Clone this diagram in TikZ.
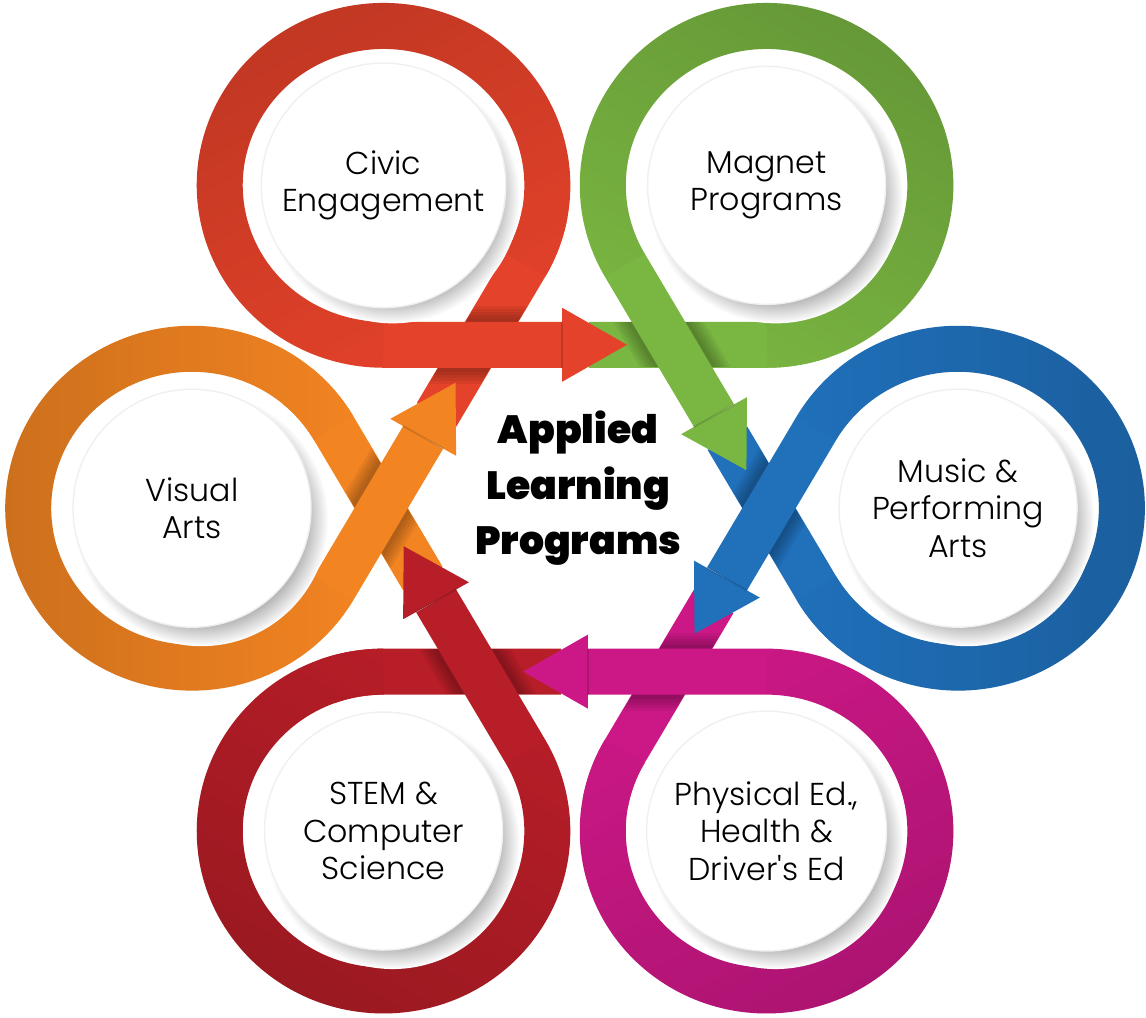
\documentclass[tikz,border=0pt]{standalone}
\usepackage{fontspec}
\IfFontExistsTF{Poppins Light}{\setmainfont{Poppins Light}}{\setmainfont{Poppins}}
\IfFontExistsTF{Poppins Black}{\newfontfamily\hubfont{Poppins Black}}{\newcommand\hubfont{\bfseries}}
\definecolor{civicred}{RGB}{228,66,42}
\definecolor{magnetgreen}{RGB}{122,182,66}
\definecolor{musicblue}{RGB}{32,112,186}
\definecolor{physmagenta}{RGB}{204,24,134}
\definecolor{stemred}{RGB}{184,30,40}
\definecolor{visualorange}{RGB}{242,132,34}
\usetikzlibrary{calc}
\usetikzlibrary{fadings}
\pgfdeclareradialshading{discshade}{\pgfpoint{0bp}{0bp}}{color(0bp)=(black!40); color(19bp)=(black!40); color(25bp)=(white); color(50bp)=(white)}
\tikzfading[name=ringfade, top color=transparent!100, bottom color=transparent!0]
\tikzset{
  band/.style={line width=0.46cm},
  disc/.style={circle, fill=white, draw=black!6, minimum size=2.38cm, align=center,
    font=\fontsize{9}{10.7}\selectfont},
  title/.style={align=center, font=\fontsize{11.2}{15.9}\selectfont\hubfont},
}
\begin{document}
\begin{tikzpicture}[x=0.01027cm, y=0.01cm]
  \fill [white] (-560,-509.5) rectangle (556,508.5);
  \useasboundingbox (-560,-509.5) rectangle (556,508.5);

  % centres and tangent points of the six loops
  \foreach \ang [count=\k] in {120,60,0,-60,-120,180} {
    \coordinate (c\k) at (\ang:373);
    \coordinate (in\k) at ($(c\k)+(\ang-150:159.5)$);
    \coordinate (from\k) at ($(in\k)+(\ang+120:173)$);
    \coordinate (out\k) at ($(c\k)+(\ang+150:159.5)$);
    \coordinate (base\k) at ($(out\k)+(\ang-120:174)$);
    \coordinate (tip\k) at ($(out\k)+(\ang-120:237)$);
  }

  % first the incoming legs, so that every arrow lies on top of them
  \foreach \ang/\col [count=\k] in {120/civicred, 60/magnetgreen, 0/musicblue,
      -60/physmagenta, -120/stemred, 180/visualorange} {
    \draw [band, \col] (from\k) -- (in\k) arc [start angle=\ang-150, delta angle=20, radius=159.5];
  }

  % loops, outgoing legs and arrow heads
  \foreach \ang/\col [count=\k] in {120/civicred, 60/magnetgreen, 0/musicblue,
      -60/physmagenta, -120/stemred, 180/visualorange} {
    % shadow of the outgoing leg on the incoming one
    \begin{scope}
      \clip ($(from\k)+(\ang+30:22)$) -- ($(in\k)+(\ang+30:22)$)
        -- ($(in\k)+(\ang-150:22)$) -- ($(from\k)+(\ang-150:22)$) -- cycle;
      \foreach \w in {0.78,0.72,0.66,0.60,0.54}
        \draw [line width=\w cm, black, opacity=0.06] (out\k) -- (base\k);
    \end{scope}
    \draw [band, \col] (in\k) arc [start angle=\ang-150, delta angle=300, radius=159.5] -- (base\k);
    \draw [band, black, opacity=0.16, path fading=ringfade, fading angle=\ang+90]
      (in\k) arc [start angle=\ang-150, delta angle=300, radius=159.5];
    \fill [\col] ($(base\k)+(\ang-30:37)$) -- (tip\k) -- ($(base\k)+(\ang-210:37)$) -- cycle;
    \draw [black, opacity=0.15, line width=0.5pt] ($(base\k)+(\ang-30:23)$) -- ($(base\k)+(\ang-210:23)$);
    \shade [shading=discshade] ($(c\k)+(9,-11)$) circle (1.27cm);
  }

  \node [disc] (civic) at (c1) {Civic\\Engagement};
  \node [disc] (magnet) at (c2) {Magnet\\Programs};
  \node [disc] (music) at (c3) {Music \&\\Performing\\Arts};
  \node [disc] (physed) at (c4) {Physical Ed.,\\Health \&\\Driver\textquotesingle s Ed};
  \node [disc] (stem) at (c5) {STEM \&\\Computer\\Science};
  \node [disc] (visual) at (c6) {Visual\\Arts};

  \node [title] (hub) at (3,20) {Applied\\Learning\\Programs};
\end{tikzpicture}
\end{document}
